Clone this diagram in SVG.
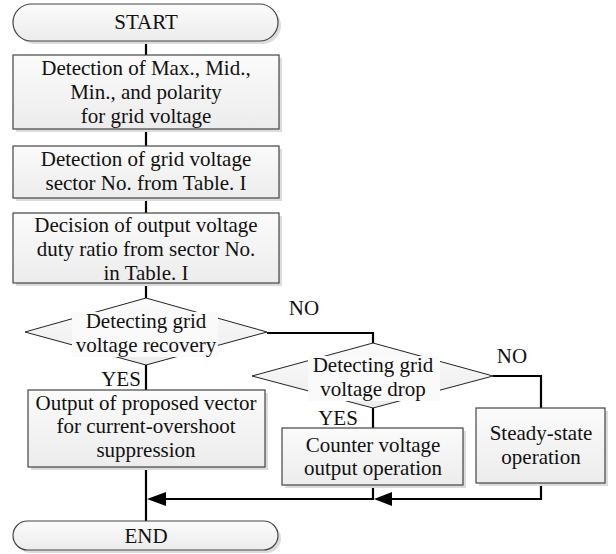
<svg xmlns="http://www.w3.org/2000/svg" width="616" height="554" viewBox="0 0 616 554">
<style>
text{font-family:'Liberation Serif','Times New Roman',serif;font-size:21px;fill:#111;text-anchor:middle}
.shape{fill:url(#g);stroke:#444;stroke-width:1.2}
.shadow{fill:#dcdcdc;stroke:none}
.dia{fill:url(#g);stroke:#222;stroke-width:1}
.conn{fill:none;stroke:#000;stroke-width:2.2}
.tb{fill:#fafafa;stroke:none}
</style>
<defs>
<linearGradient id="g" x1="0" y1="0" x2="0" y2="1">
<stop offset="0" stop-color="#fbfbfb"/>
<stop offset="1" stop-color="#ececec"/>
</linearGradient>
</defs>
<rect width="616" height="554" fill="#fff"/>

<g id="connectors">
<line class="conn" x1="146" y1="41" x2="146" y2="55"/>
<line class="conn" x1="146" y1="129" x2="146" y2="146"/>
<line class="conn" x1="146" y1="198" x2="146" y2="213"/>
<line class="conn" x1="146" y1="283" x2="146" y2="298"/>
<line class="conn" x1="146" y1="365" x2="146" y2="390"/>
<polyline class="conn" points="267,333 373,333 373,343"/>
<line class="conn" x1="373" y1="408" x2="373" y2="428"/>
<polyline class="conn" points="493,376 541,376 541,408"/>
<line class="conn" x1="146" y1="467" x2="146" y2="521"/>
<polyline class="conn" points="541,483 541,499 390,499"/>
<path d="M374,499 L392,492 L392,506 Z" fill="#000"/>
<polyline class="conn" points="373,485 373,499 165,499"/>
<path d="M147,499 L166,492 L166,506 Z" fill="#000"/>
</g>

<g id="start">
<rect class="shadow" x="16" y="7" width="265" height="37" rx="18.5"/>
<rect class="shape" x="13" y="4" width="265" height="37" rx="18.5"/>
<text x="146" y="29">START</text>
</g>

<g id="detect-max">
<rect class="shadow" x="16" y="58" width="266" height="74"/>
<rect class="shape" x="13" y="55" width="266" height="74"/>
<text x="146" y="75">Detection of Max., Mid.,</text>
<text x="146" y="99">Min., and polarity</text>
<text x="146" y="123">for grid voltage</text>
</g>

<g id="detect-sector">
<rect class="shadow" x="16" y="149" width="266" height="52"/>
<rect class="shape" x="13" y="146" width="266" height="52"/>
<text x="146" y="166">Detection of grid voltage</text>
<text x="146" y="190">sector No. from Table. I</text>
</g>

<g id="decision-duty">
<rect class="shadow" x="16" y="216" width="266" height="70"/>
<rect class="shape" x="13" y="213" width="266" height="70"/>
<text x="146" y="232">Decision of output voltage</text>
<text x="146" y="256">duty ratio from sector No.</text>
<text x="146" y="280">in Table. I</text>
</g>

<g id="recovery">
<polygon class="dia" points="146,298 267,332 146,365 25,332"/>
<rect class="tb" x="72" y="312" width="146" height="45"/>
<text x="146" y="328">Detecting grid</text>
<text x="146" y="352">voltage recovery</text>
</g>

<g id="drop">
<polygon class="dia" points="373,343 493,376 373,408 252,376"/>
<rect class="tb" x="308" y="356" width="132" height="45"/>
<text x="373" y="372">Detecting grid</text>
<text x="373" y="396">voltage drop</text>
</g>

<g id="proposed-vector">
<rect class="shadow" x="31" y="393" width="237" height="77"/>
<rect class="shape" x="28" y="390" width="237" height="77"/>
<text x="146" y="410">Output of proposed vector</text>
<text x="146" y="433">for current-overshoot</text>
<text x="146" y="457">suppression</text>
</g>

<g id="counter-voltage">
<rect class="shadow" x="285" y="431" width="181" height="57"/>
<rect class="shape" x="282" y="428" width="181" height="57"/>
<text x="373" y="452">Counter voltage</text>
<text x="373" y="475">output operation</text>
</g>

<g id="steady-state">
<rect class="shadow" x="479" y="411" width="129" height="75"/>
<rect class="shape" x="476" y="408" width="129" height="75"/>
<text x="541" y="440">Steady-state</text>
<text x="541" y="464">operation</text>
</g>

<g id="end">
<rect class="shadow" x="16" y="524" width="265" height="29" rx="14.5"/>
<rect class="shape" x="13" y="521" width="265" height="29" rx="14.5"/>
<text x="146" y="543">END</text>
</g>

<g id="labels">
<text x="304" y="315">NO</text>
<text x="512" y="363">NO</text>
<text x="121" y="386">YES</text>
<text x="338" y="425">YES</text>
</g>
</svg>
